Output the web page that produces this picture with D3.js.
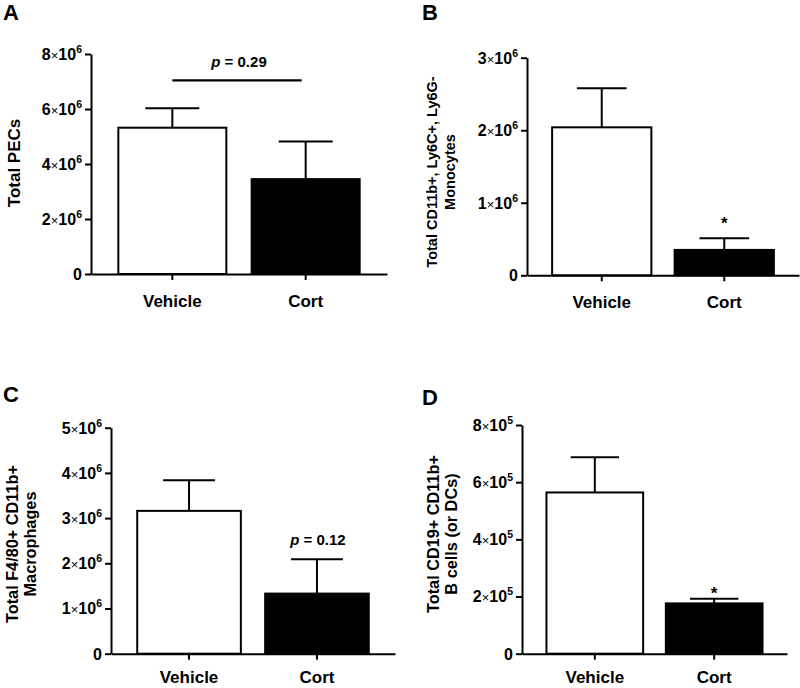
<!DOCTYPE html>
<html><head><meta charset="utf-8">
<script src="https://cdn.jsdelivr.net/npm/d3@7"></script>
<style>
body{margin:0;background:#fff}
svg{display:block}
text{font-family:"Liberation Sans",Arial,sans-serif;font-weight:bold;fill:#000}
</style>
</head><body>
<svg id="chart" width="800" height="688"></svg>
<script>
// ---- data ----
const categories = ["Vehicle", "Cort"];
const fills = ["#ffffff", "#000000"];

const meansA = [5.32e6, 3.45e6];
const semA   = [0.71e6, 1.37e6];
const ticksA = [0, 2e6, 4e6, 6e6, 8e6];
const titleA = ["Total PECs"];

const meansB = [2.04e6, 0.35e6];
const semB   = [0.54e6, 0.16e6];
const ticksB = [0, 1e6, 2e6, 3e6];
const titleB = ["Total CD11b+, Ly6C+, Ly6G-", "Monocytes"];

const meansC = [3.16e6, 1.33e6];
const semC   = [0.68e6, 0.76e6];
const ticksC = [0, 1e6, 2e6, 3e6, 4e6, 5e6];
const titleC = ["Total F4/80+ CD11b+", "Macrophages"];

const meansD = [5.64e5, 1.76e5];
const semD   = [1.23e5, 0.16e5];
const ticksD = [0, 2e5, 4e5, 6e5, 8e5];
const titleD = ["Total CD19+ CD11b+", "B cells (or DCs)"];

// annotations (value-space positions)
const annA = {type: "bracket", label: "0.29", lineVal: 7.04e6, textVal: 7.52e6};
const annB = {type: "star", cat: "Cort", val: 0.64e6};
const annC = {type: "ptext", cat: "Cort", label: "0.12", val: 2.4e6};
const annD = {type: "star", cat: "Cort", val: 1.91e5};

// ---- layout ----
const panels = [
  {letter: "A", lx: 3, ly: 20, means: meansA, sem: semA, ticks: ticksA, exp: 6, title: titleA, titleSize: 17,
   box: {l: 91, r: 387, t: 54, b: 274}, titleX: 20, titleCy: 163, labelGap: 33, ann: annA},
  {letter: "B", lx: 422, ly: 20, means: meansB, sem: semB, ticks: ticksB, exp: 6, title: titleB, titleSize: 14.5,
   box: {l: 527, r: 799, t: 57.7, b: 275.3}, titleX: 437, titleCy: 172, labelGap: 33, ann: annB},
  {letter: "C", lx: 3, ly: 402, means: meansC, sem: semC, ticks: ticksC, exp: 6, title: titleC, titleSize: 16.3,
   box: {l: 111, r: 395, t: 427.7, b: 653.7}, titleX: 18, titleCy: 544, labelGap: 29, ann: annC},
  {letter: "D", lx: 422, ly: 405, means: meansD, sem: semD, ticks: ticksD, exp: 5, title: titleD, titleSize: 16.3,
   box: {l: 522, r: 787, t: 425, b: 653.7}, titleX: 439, titleCy: 534, labelGap: 29, ann: annD}
];

const svg = d3.select("#chart");

panels.forEach(p => {
  const g = svg.append("g");
  const maxV = p.ticks[p.ticks.length - 1];
  const y = d3.scaleLinear().domain([0, maxV]).range([p.box.b, p.box.t]);
  const x = d3.scaleBand().domain(categories).range([p.box.l, p.box.r])
    .paddingInner(0.19).paddingOuter(0.205);
  const bw = x.bandwidth();
  const base = Math.pow(10, p.exp);

  // panel letter
  g.append("text").attr("x", p.lx).attr("y", p.ly).attr("font-size", 22).text(p.letter);

  // bars
  categories.forEach((c, i) => {
    g.append("rect")
      .attr("x", x(c)).attr("y", y(p.means[i]))
      .attr("width", bw).attr("height", y(0) - y(p.means[i]))
      .attr("fill", fills[i]).attr("stroke", "#000").attr("stroke-width", 2);
    const cx = x(c) + bw / 2;
    const top = y(p.means[i] + p.sem[i]);
    g.append("line").attr("x1", cx).attr("x2", cx).attr("y1", y(p.means[i])).attr("y2", top)
      .attr("stroke", "#000").attr("stroke-width", 2);
    g.append("line").attr("x1", cx - bw / 4).attr("x2", cx + bw / 4).attr("y1", top).attr("y2", top)
      .attr("stroke", "#000").attr("stroke-width", 2);
  });

  // y axis
  const ya = g.append("g").attr("transform", `translate(${p.box.l},0)`)
    .call(d3.axisLeft(y).tickValues(p.ticks).tickSize(6).tickSizeOuter(0).tickPadding(3).tickFormat(""));
  ya.selectAll("path,line").attr("stroke", "#000").attr("stroke-width", 2);
  ya.selectAll(".tick").each(function(d) {
    const t = d3.select(this).select("text");
    t.attr("font-size", 16).attr("font-family", null).attr("fill", "#000").attr("dy", "0.34em").attr("x", -9);
    t.text(null);
    if (d === 0) { t.text("0"); return; }
    const m = Math.round(d / base);
    t.append("tspan").text(m);
    t.append("tspan").attr("font-weight", "normal").attr("font-size", 13).text("\u00d7");
    t.append("tspan").text("10");
    t.append("tspan").attr("font-size", 10.5).attr("dy", -7).text(p.exp);
  });

  // x axis
  const xa = g.append("g").attr("transform", `translate(0,${p.box.b})`)
    .call(d3.axisBottom(x).tickSize(6).tickSizeOuter(0).tickFormat(""));
  xa.selectAll("path,line").attr("stroke", "#000").attr("stroke-width", 2);
  categories.forEach(c => {
    g.append("text").attr("x", x(c) + bw / 2).attr("y", p.box.b + p.labelGap)
      .attr("text-anchor", "middle").attr("font-size", 17).text(c);
  });

  // y title
  p.title.forEach((line, k) => {
    g.append("text")
      .attr("transform", `translate(${p.titleX + k * 17.5},${p.titleCy}) rotate(-90)`)
      .attr("text-anchor", "middle").attr("font-size", p.titleSize).text(line);
  });

  // annotations
  const a = p.ann;
  if (a.type === "bracket") {
    const x1 = x(categories[0]) + bw / 2, x2 = x(categories[1]) + bw / 2 - 4;
    g.append("line").attr("x1", x1).attr("x2", x2).attr("y1", y(a.lineVal)).attr("y2", y(a.lineVal))
      .attr("stroke", "#000").attr("stroke-width", 2.2);
    const t = g.append("text").attr("x", (x1 + x2) / 2 + 2).attr("y", y(a.textVal))
      .attr("text-anchor", "middle").attr("font-size", 15);
    t.append("tspan").attr("font-style", "italic").text("p");
    t.append("tspan").text(" = " + a.label);
  } else if (a.type === "ptext") {
    const t = g.append("text").attr("x", x(a.cat) + bw / 2 + 1).attr("y", y(a.val))
      .attr("text-anchor", "middle").attr("font-size", 15);
    t.append("tspan").attr("font-style", "italic").text("p");
    t.append("tspan").text(" = " + a.label);
  } else if (a.type === "star") {
    g.append("text").attr("x", x(a.cat) + bw / 2).attr("y", y(a.val))
      .attr("text-anchor", "middle").attr("font-size", 17).text("*");
  }
});
</script>
</body></html>
